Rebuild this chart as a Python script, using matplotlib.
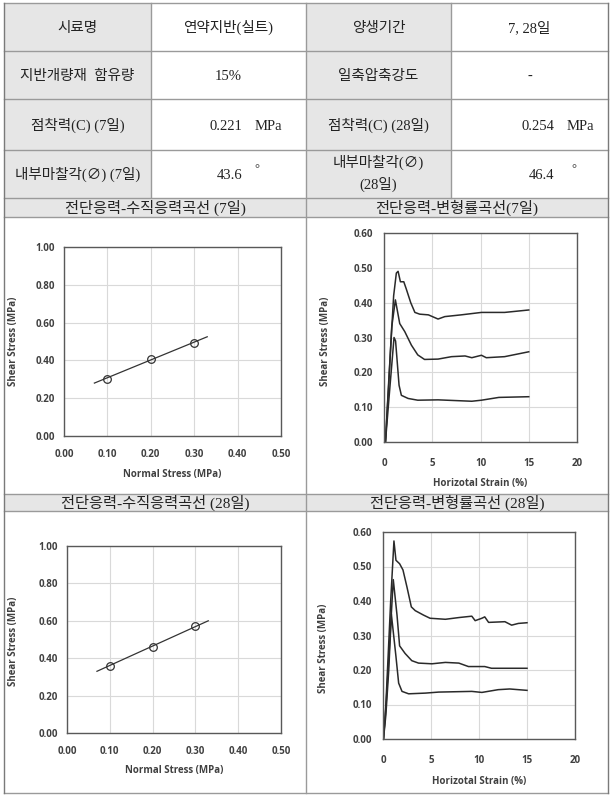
import matplotlib
matplotlib.use("Agg")
import matplotlib.pyplot as plt
from matplotlib.patches import Rectangle

# ---------------- data ----------------
row_labels_left = ["시료명", "지반개량재  함유량", "점착력(C) (7일)", "내부마찰각(∅) (7일)"]
row_values_left = ["연약지반(실트)", "15%", "0.221", "43.6"]
row_labels_right = ["양생기간", "일축압축강도", "점착력(C) (28일)", "내부마찰각(∅)", "(28일)"]
row_values_right = ["7, 28일", "-", "0.254", "46.4"]
chart_titles = ["전단응력-수직응력곡선 (7일)", "전단응력-변형률곡선(7일)",
                "전단응력-수직응력곡선 (28일)", "전단응력-변형률곡선 (28일)"]

normal_stress = [0.1, 0.2, 0.3]
shear_7 = [0.30, 0.41, 0.49]
shear_28 = [0.36, 0.46, 0.57]
fit_x = [0.07, 0.33]
fit_7 = [0.28, 0.525]
fit_28 = [0.33, 0.60]

# stress-strain 7 days
s7a_x = [0.15, 0.5, 1.0, 1.28, 1.46, 1.7, 2.05, 2.3, 2.77, 3.2, 3.7, 4.6, 5.6, 6.3, 8.0, 10.1, 12.5, 15.0]
s7a_y = [0.0, 0.18, 0.42, 0.485, 0.49, 0.46, 0.46, 0.44, 0.40, 0.372, 0.367, 0.365, 0.353, 0.36, 0.365, 0.372, 0.372, 0.379]
s7b_x = [0.15, 0.5, 0.8, 1.18, 1.63, 2.15, 2.84, 3.5, 4.2, 5.6, 7.0, 8.4, 9.1, 10.1, 10.6, 12.5, 15.0]
s7b_y = [0.0, 0.17, 0.33, 0.408, 0.34, 0.317, 0.278, 0.25, 0.237, 0.238, 0.245, 0.247, 0.242, 0.249, 0.242, 0.245, 0.259]
s7c_x = [0.15, 0.5, 1.04, 1.2, 1.56, 1.8, 2.5, 3.5, 5.6, 9.1, 10.1, 11.9, 15.0]
s7c_y = [0.0, 0.12, 0.30, 0.29, 0.163, 0.134, 0.125, 0.12, 0.121, 0.117, 0.12, 0.128, 0.13]

# stress-strain 28 days
s28a_x = [0.05, 0.3, 0.8, 1.14, 1.35, 1.73, 2.08, 2.5, 2.95, 3.36, 4.23, 4.9, 6.5, 7.9, 9.25, 9.6, 10.3, 10.6, 11.0, 12.7, 13.4, 14.1, 15.0]
s28a_y = [0.0, 0.10, 0.40, 0.574, 0.518, 0.508, 0.49, 0.44, 0.383, 0.372, 0.359, 0.35, 0.347, 0.352, 0.356, 0.343, 0.35, 0.354, 0.338, 0.34, 0.33, 0.335, 0.337]
s28b_x = [0.05, 0.3, 0.7, 1.07, 1.46, 1.73, 2.3, 3.0, 3.7, 5.1, 6.5, 7.9, 8.9, 10.6, 11.3, 15.0]
s28b_y = [0.0, 0.09, 0.28, 0.462, 0.359, 0.27, 0.248, 0.227, 0.22, 0.218, 0.222, 0.22, 0.21, 0.21, 0.205, 0.205]
s28c_x = [0.05, 0.3, 0.6, 0.87, 1.35, 1.63, 1.98, 2.67, 4.4, 5.8, 9.25, 10.3, 12.0, 13.2, 15.0]
s28c_y = [0.0, 0.07, 0.20, 0.362, 0.239, 0.162, 0.138, 0.131, 0.133, 0.136, 0.138, 0.135, 0.143, 0.145, 0.141]

# ---------------- figure ----------------
W, H = 616, 802
fig = plt.figure(figsize=(W / 100, H / 100), dpi=100)
fig.patch.set_facecolor("white")

bg = fig.add_axes([0, 0, 1, 1])
bg.set_xlim(0, W)
bg.set_ylim(H, 0)
bg.axis("off")

KFONT = ["Liberation Serif", "Noto Sans CJK KR", "DejaVu Sans"]
GREY = "#e6e6e6"
LINE = "#9a9a9a"

x0, c1, c2, c3, x1 = 4, 151, 306, 451, 608
rows = [3, 51, 99, 150, 198]
h1b, chart1b, h2b, chart2b = 217, 494, 511, 793

def rect(xa, ya, xb, yb, fc):
    bg.add_patch(Rectangle((xa, ya), xb - xa, yb - ya, facecolor=fc, edgecolor="none", zorder=0))

for i in range(4):
    rect(x0, rows[i], c1, rows[i + 1], GREY)
    rect(c2, rows[i], c3, rows[i + 1], GREY)
rect(x0, 198, x1, h1b, GREY)
rect(x0, chart1b, x1, h2b, GREY)

lkw = dict(color=LINE, lw=1.0, zorder=1)
for y in rows + [h1b, chart1b, h2b, chart2b]:
    bg.plot([x0, x1], [y, y], **lkw)
bg.plot([x0, x0], [3, chart2b], color="#7a7a7a", lw=1.0, zorder=1)
bg.plot([x1, x1], [3, chart2b], color="#7a7a7a", lw=1.0, zorder=1)
for xc in (c1, c3):
    bg.plot([xc, xc], [3, 198], **lkw)
bg.plot([c2, c2], [3, chart2b], **lkw)

fs = 10.5
def t(x, yc, s, ha="center", size=fs):
    bg.text(x, yc + 0.34 * size * 100 / 72, s, ha=ha, va="baseline", fontsize=size,
            family=KFONT, color="#222222")

for i in range(4):
    yc = (rows[i] + rows[i + 1]) / 2
    t((x0 + c1) / 2, yc, row_labels_left[i])
for i in range(3):
    yc = (rows[i] + rows[i + 1]) / 2
    t((c2 + c3) / 2, yc, row_labels_right[i])
t((c2 + c3) / 2, 162, row_labels_right[3])
t((c2 + c3) / 2, 184, row_labels_right[4])

t((c1 + c2) / 2, 27, row_values_left[0])
t((c1 + c2) / 2, 75, row_values_left[1])
t((c3 + x1) / 2, 27, row_values_right[0])
t((c3 + x1) / 2, 75, row_values_right[1])
t(242, 125, row_values_left[2], ha="right")
t(255, 125, "MPa", ha="left")
t(554, 125, row_values_right[2], ha="right")
t(567, 125, "MPa", ha="left")
t(242, 174, row_values_left[3], ha="right")
t(257, 168, "°", ha="center", size=9)
t(554, 174, row_values_right[3], ha="right")
t(574, 168, "°", ha="center", size=9)

t((x0 + c2) / 2, 207.5, chart_titles[0], size=11)
t((c2 + x1) / 2, 207.5, chart_titles[1], size=11)
t((x0 + c2) / 2, 502.5, chart_titles[2], size=11)
t((c2 + x1) / 2, 502.5, chart_titles[3], size=11)

# ---------------- charts ----------------
TCOL = "#404040"
CFONT = "Open Sans"

def make_ax(l, r, top, bot):
    return fig.add_axes([l / W, 1 - bot / H, (r - l) / W, (bot - top) / H])

def style(ax, xpad, ypad, xlab, ylab, xl_off, yl_off, yl_y):
    ax.grid(True, color="#d9d9d9", lw=0.8)
    ax.set_axisbelow(True)
    for s in ax.spines.values():
        s.set_color("#595959")
        s.set_linewidth(1.0)
    ax.tick_params(length=0, labelsize=7, labelcolor=TCOL)
    ax.tick_params(axis="x", pad=xpad)
    ax.tick_params(axis="y", pad=ypad)
    for lab in ax.get_xticklabels() + ax.get_yticklabels():
        lab.set_fontfamily(CFONT)
        lab.set_fontweight("bold")
    ax.set_xlabel(xlab, fontsize=7, fontweight="bold", color=TCOL, family=CFONT)
    ax.set_ylabel(ylab, fontsize=7, fontweight="bold", color=TCOL, family=CFONT)
    ax.xaxis.set_label_coords(0.5, -xl_off)
    ax.yaxis.set_label_coords(-yl_off, yl_y)

def normal_chart(ax, ys, fy):
    ax.plot(fit_x, fy, color="#333333", lw=0.9)
    ax.plot(normal_stress, ys, "o", ms=5.5, mfc="none", mec="#333333", mew=0.9)
    ax.set_xlim(0, 0.5)
    ax.set_ylim(0, 1.0)
    xt = [0, 0.1, 0.2, 0.3, 0.4, 0.5]
    yt = [0, 0.2, 0.4, 0.6, 0.8, 1.0]
    ax.set_xticks(xt)
    ax.set_xticklabels([f"{v:.2f}" for v in xt])
    ax.set_yticks(yt)
    ax.set_yticklabels([f"{v:.2f}" for v in yt])

def strain_chart(ax, curves):
    for cx, cy in curves:
        ax.plot(cx, cy, color="#2a2a2a", lw=1.1)
    ax.set_xlim(0, 20)
    ax.set_ylim(0, 0.6)
    ax.set_xticks([0, 5, 10, 15, 20])
    yt = [0, 0.1, 0.2, 0.3, 0.4, 0.5, 0.6]
    ax.set_yticks(yt)
    ax.set_yticklabels([f"{v:.2f}" for v in yt])

ax1 = make_ax(64, 281, 247, 436)
normal_chart(ax1, shear_7, fit_7)
style(ax1, 9.5, 6.5, "Normal Stress (MPa)", "Shear Stress (MPa)", 0.175, 0.207, 0.5)

ax2 = make_ax(384, 577, 233, 442)
strain_chart(ax2, [(s7a_x, s7a_y), (s7b_x, s7b_y), (s7c_x, s7c_y)])
style(ax2, 11.5, 8, "Horizotal Strain (%)", "Shear Stress (MPa)", 0.172, 0.275, 0.48)

ax3 = make_ax(67, 281, 546, 733)
normal_chart(ax3, shear_28, fit_28)
style(ax3, 9.5, 6.5, "Normal Stress (MPa)", "Shear Stress (MPa)", 0.171, 0.224, 0.49)

ax4 = make_ax(383, 575, 532, 739)
strain_chart(ax4, [(s28a_x, s28a_y), (s28b_x, s28b_y), (s28c_x, s28c_y)])
style(ax4, 11.5, 8, "Horizotal Strain (%)", "Shear Stress (MPa)", 0.179, 0.28, 0.44)

fig.savefig("out.png", dpi=100, facecolor="white")
